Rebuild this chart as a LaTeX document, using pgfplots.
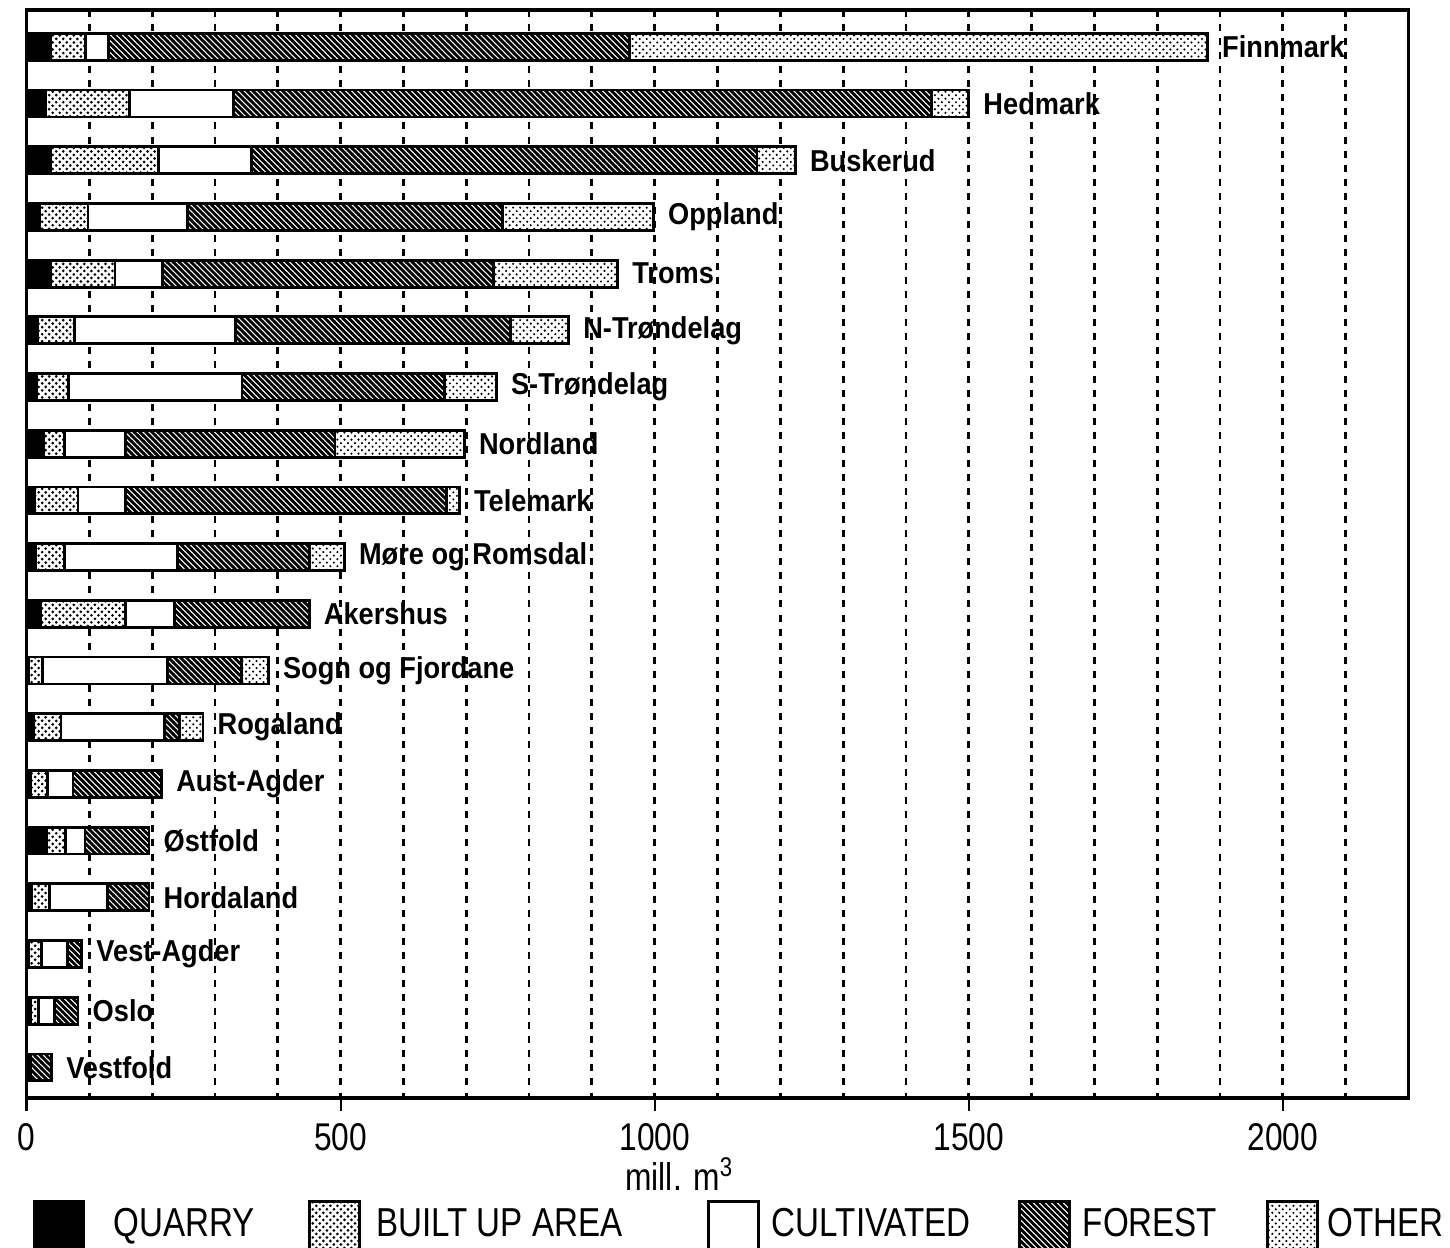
\documentclass[border=0pt]{standalone}
\usepackage{fontspec}
\setmainfont{Liberation Sans}
\newfontfamily\condfont[FakeStretch=0.82]{Liberation Sans}
\newfontfamily\labfont[FakeStretch=0.9]{Liberation Sans}
\usepackage{pgfplots}
\usepackage{pgfplotstable}
\pgfplotsset{compat=1.18}
\usetikzlibrary{patterns}

\pgfdeclarepatternformonly{foresthatch}{\pgfqpoint{-1pt}{-1pt}}{\pgfqpoint{3pt}{3pt}}{\pgfqpoint{1.7pt}{1.7pt}}{%
  \pgfsetlinewidth{0.8pt}%
  \pgfpathmoveto{\pgfqpoint{-0.1pt}{1.8pt}}%
  \pgfpathlineto{\pgfqpoint{1.8pt}{-0.1pt}}%
  \pgfusepath{stroke}}
\pgfdeclarepatternformonly{budots}{\pgfqpoint{-0.5pt}{-0.5pt}}{\pgfqpoint{2.5pt}{2.5pt}}{\pgfqpoint{2pt}{2pt}}{%
  \pgfpathcircle{\pgfqpoint{0pt}{0pt}}{0.42pt}%
  \pgfpathcircle{\pgfqpoint{1pt}{1pt}}{0.42pt}%
  \pgfusepath{fill}}
\pgfdeclarepatternformonly{otherdots}{\pgfqpoint{-0.5pt}{-0.5pt}}{\pgfqpoint{2.5pt}{2.5pt}}{\pgfqpoint{2pt}{2pt}}{%
  \pgfpathcircle{\pgfqpoint{0pt}{0pt}}{0.34pt}%
  \pgfpathcircle{\pgfqpoint{1pt}{1pt}}{0.34pt}%
  \pgfusepath{fill}}

\pgfplotstableread[col sep=comma]{
y,Q,B,C,F,O,T,name
0,38,56,36,830,920,1880,Finnmark
1,31,133,165,1111,60,1500,Hedmark
2,38,172,148,805,61,1224,Buskerud
3,21,77,158,502,240,998,Oppland
4,38,103,75,528,197,941,Troms
5,18,59,256,437,93,863,N-Trøndelag
6,16,51,276,323,82,748,S-Trøndelag
7,27,34,97,333,206,697,Nordland
8,13,69,75,511,21,689,Telemark
9,15,45,181,210,55,506,Møre og Romsdal
10,23,134,79,214,0,450,Akershus
11,3,23,198,118,43,385,Sogn og Fjordane
12,11,44,165,24,37,281,Rogaland
13,7,27,40,141,0,215,Aust-Agder
14,32,30,31,102,0,195,Østfold
15,8,28,93,66,0,195,Hordaland
16,3,21,41,23,0,88,Vest-Agder
17,6,13,25,38,0,82,Oslo
18,6,0,0,34,0,40,Vestfold
}\datatable

\begin{document}
\begin{tikzpicture}
\pgfplotsset{
  common/.style={
    scale only axis,
    width=13.82cm, height=10.88cm,
    y dir=reverse,
    ymin=-0.65, ymax=18.54,
    xmin=0, xmax=2200,
  }
}
\begin{axis}[
  common,
  name=ax,
  xbar stacked,
  bar width=0.475,
  ytick=\empty,
  xtick={0,500,...,2000},
  minor xtick={100,200,...,2100},
  xmajorgrids, xminorgrids,
  major grid style={black, line width=0.8pt, dash pattern=on 2pt off 2pt},
  minor grid style={black, line width=0.8pt, dash pattern=on 2pt off 2pt},
  tick align=outside,
  xtick pos=left,
  major tick length=0.13cm,
  minor tick length=0pt,
  tick style={black, line width=0.6pt},
  axis line style={line width=1pt},
  /pgf/number format/assume math mode=true,
  /pgf/number format/set thousands separator={},
  xticklabel style={font=\condfont\fontsize{11}{13}\selectfont},
  xlabel={mill. m\textsuperscript{3}},
  xlabel style={font=\condfont\fontsize{11}{12}\selectfont, at={(ticklabel cs:0.4727)}, anchor=north, inner sep=0pt, yshift=0.06cm},
  legend columns=5,
  legend style={draw=none, at={(rel axis cs:0,0)}, anchor=north west, xshift=0.06cm, yshift=-1.02cm,
    inner sep=0pt, outer sep=0pt, column sep=0pt,
    nodes={inner sep=0pt, font=\condfont\fontsize{11.5}{13}\selectfont}},
  legend image code/.code={\draw[#1] (0cm,-0.24cm) rectangle (0.5cm,0.24cm);},
  every axis plot/.append style={draw=black, line width=0.8pt},
]
\coordinate (tl) at (rel axis cs:0,1);
\addplot[fill=black] table[x=Q,y=y]{\datatable};
\addlegendentry{\makebox[2.23cm][l]{\hspace{0.28cm}QUARRY}}
\addplot[fill=white, postaction={pattern=budots}] table[x=B,y=y]{\datatable};
\addlegendentry{\makebox[3.46cm][l]{\hspace{0.15cm}BUILT UP AREA}}
\addplot[fill=white] table[x=C,y=y]{\datatable};
\addlegendentry{\makebox[2.58cm][l]{\hspace{0.12cm}CULTIVATED}}
\addplot[fill=white, postaction={pattern=foresthatch}] table[x=F,y=y]{\datatable};
\addlegendentry{\makebox[1.95cm][l]{\hspace{0.12cm}FOREST}}
\addplot[fill=white, postaction={pattern=otherdots}] table[x=O,y=y]{\datatable};
\addlegendentry{\makebox[1.25cm][l]{\hspace{0.09cm}OTHER}}
\end{axis}
\begin{axis}[
  common,
  hide axis,
  clip=false,
]
\addplot[only marks, mark=*, mark size=0pt, mark options={draw=none, fill=none},
  nodes near coords, point meta=explicit symbolic,
  nodes near coords style={anchor=west, inner sep=0pt, xshift=0.14cm, text=black,
    font=\labfont\bfseries\fontsize{8.6}{10}\selectfont}]
  table[x=T,y=y,meta=name]{\datatable};
\end{axis}
\pgfresetboundingbox
\path ([shift={(-0.265cm,0.10cm)}]tl) rectangle ++(14.5cm,-12.48cm);
\end{tikzpicture}
\end{document}
